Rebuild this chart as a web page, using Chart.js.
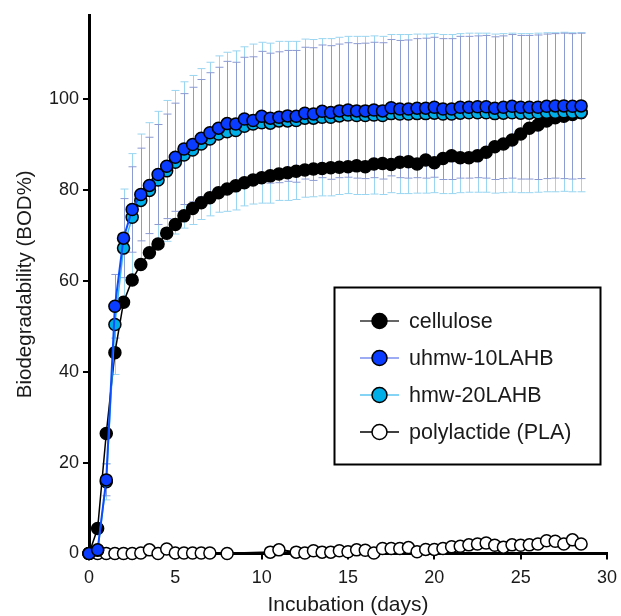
<!DOCTYPE html>
<html>
<head>
<meta charset="utf-8">
<script src="https://cdn.jsdelivr.net/npm/chart.js@4.4.1/dist/chart.umd.min.js"></script>
<style>
body{margin:0;background:#fff;}
canvas{display:block;}
</style>
</head>
<body>
<canvas id="bod" width="621" height="616"></canvas>
<script>
// incubation days, one reading every half day
let days = [0,0.5,1,1.5,2,2.5,3,3.5,4,4.5,5,5.5,6,6.5,7,7.5,8,8.5,9,9.5,
  10,10.5,11,11.5,12,12.5,13,13.5,14,14.5,15,15.5,16,16.5,17,17.5,18,18.5,19,19.5,
  20,20.5,21,21.5,22,22.5,23,23.5,24,24.5,25,25.5,26,26.5,27,27.5,28,28.5];

let cellulose = [0,5.5,26.4,44.2,55.3,60.2,63.6,66.2,68.1,70.5,72.4,74.3,75.9,77.2,78.3,79.4,80.2,80.9,81.6,82.2,
  82.7,83.1,83.5,83.8,84.1,84.4,84.6,84.7,84.9,85.0,85.1,85.3,85.1,85.7,85.8,85.6,86.1,86.2,85.7,86.6,
  86.0,86.9,87.5,87.1,87.1,87.5,88.3,89.5,90.1,91.0,92.3,93.6,94.3,95.2,95.9,96.2,96.6,97.0];

let uhmw = [0,0.8,16.2,54.4,69.4,75.7,79.0,81.0,83.4,85.2,87.2,89.0,90.0,91.4,92.6,93.6,94.6,94.5,95.6,95.3,
  96.2,95.8,96.0,96.3,96.2,96.9,96.7,97.3,97.05,97.4,97.6,97.4,97.4,97.6,97.4,98.1,97.8,97.8,98.0,98.0,
  98.2,97.8,97.8,98.2,98.2,98.3,98.3,98.0,98.2,98.4,98.2,98.2,98.2,98.4,98.5,98.5,98.4,98.5];
let uhmwErr = [0,0.5,3.5,7.0,8.7,9.4,10.2,10.6,11.0,11.5,11.9,12.2,12.6,12.9,13.2,13.4,13.7,13.6,13.6,14.0,
  14.3,14.3,14.4,14.4,14.5,14.5,14.6,14.6,14.7,14.7,14.8,14.8,14.9,14.9,15.0,15.0,15.1,15.2,15.3,15.4,
  15.4,15.5,15.5,15.6,15.6,15.6,15.7,15.7,15.7,15.8,15.8,15.8,15.9,15.9,15.9,16.0,16.0,16.0];

let hmw = [0,0.7,15.8,50.4,67.2,74.0,77.7,79.9,82.2,84.2,86.1,87.7,88.8,90.1,91.2,92.3,92.8,93.1,94.0,94.5,
  94.8,94.7,95.2,95.2,95.3,95.8,95.8,96.0,96.0,96.3,96.5,96.4,96.4,96.5,96.4,96.8,96.7,96.7,96.8,96.8,
  96.9,96.7,96.7,96.9,97.0,97.0,97.0,96.8,96.9,97.0,96.9,96.9,97.0,97.1,97.1,97.2,97.1,97.1];
let hmwErr = [0,0.5,4.0,11.0,13.0,14.0,14.6,14.9,15.1,15.5,15.8,16.1,16.4,16.6,16.9,17.2,17.5,17.5,17.5,17.6,
  17.7,17.6,17.5,17.5,17.4,17.4,17.3,17.3,17.3,17.3,17.3,17.4,17.4,17.4,17.4,17.4,17.5,17.5,17.5,17.5,
  17.5,17.5,17.5,17.5,17.5,17.5,17.5,17.5,17.5,17.5,17.5,17.5,17.5,17.5,17.5,17.5,17.5,17.5];

// PLA has a few missing readings (null)
let pla = [0,0,0,0,0,0,0.1,0.8,0,1.0,0.1,0.1,0.1,0.1,0.1,null,0,null,null,null,
  null,0.3,0.8,null,0.3,0.1,0.6,0.3,0.3,0.6,0.4,0.8,0.7,0.1,1.1,1.1,1.1,1.3,0.4,0.9,
  0.9,1.1,1.5,1.6,1.9,2.1,2.3,1.8,1.4,1.9,1.8,1.9,2.1,2.8,2.7,2.1,3.0,2.1];

let xTicks = [0,5,10,15,20,25,30];
let yTicks = [0,20,40,60,80,100];

let FONT = 'Liberation Sans, Arial, sans-serif';

function pts(vals){
  return days.map((d,i)=>({x:d, y:vals[i]}));
}

// vertical error bars with caps, behind the markers
let errorBars = {
  id: 'errorBars',
  beforeDatasetsDraw(chart){
    let ctx = chart.ctx;
    let xs = chart.scales.x, ys = chart.scales.y;
    chart.data.datasets.forEach(ds=>{
      if(!ds.errors) return;
      ctx.save();
      ctx.strokeStyle = ds.errorColor;
      ctx.lineWidth = 1;
      ds.data.forEach((p,i)=>{
        let e = ds.errors[i];
        if(!e || p.y == null) return;
        let px = Math.round(xs.getPixelForValue(p.x)) + 0.5;
        let top = ys.getPixelForValue(p.y + e);
        let bot = ys.getPixelForValue(p.y - e);
        ctx.beginPath();
        ctx.moveTo(px, top); ctx.lineTo(px, bot);
        ctx.moveTo(px - 4, top); ctx.lineTo(px + 4, top);
        ctx.moveTo(px - 4, bot); ctx.lineTo(px + 4, bot);
        ctx.stroke();
      });
      ctx.restore();
    });
  }
};

// boxed legend with a line+marker sample for each series
let boxLegend = {
  id: 'boxLegend',
  afterDraw(chart){
    let ctx = chart.ctx;
    ctx.save();
    ctx.lineWidth = 2;
    ctx.strokeStyle = '#000';
    ctx.strokeRect(334.5, 287.5, 266, 177);
    let rows = chart.data.datasets.slice().sort((a,b)=>a.legendRank-b.legendRank);
    rows.forEach((ds,i)=>{
      let y = 321 + i*37;
      ctx.strokeStyle = ds.legendLine;
      ctx.lineWidth = 1.5;
      ctx.beginPath(); ctx.moveTo(360, y); ctx.lineTo(399, y); ctx.stroke();
      ctx.beginPath(); ctx.arc(379.5, y, 7.5, 0, Math.PI*2);
      ctx.fillStyle = ds.pointBackgroundColor; ctx.fill();
      ctx.lineWidth = 1.5; ctx.strokeStyle = '#000'; ctx.stroke();
      ctx.fillStyle = '#1a1a1a';
      ctx.font = '21.5px ' + FONT;
      ctx.textBaseline = 'middle';
      ctx.fillText(ds.label, 409, y + 1);
    });
    ctx.restore();
  }
};

function series(label, vals, color, fill, width, order, rank, legendLine){
  return {
    label: label,
    data: pts(vals),
    borderColor: color,
    borderWidth: width,
    pointRadius: 6,
    pointBorderWidth: 1.5,
    pointBorderColor: '#000',
    pointBackgroundColor: fill,
    tension: 0,
    spanGaps: true,
    clip: false,
    order: order,
    legendRank: rank,
    legendLine: legendLine
  };
}

let dsCell = series('cellulose', cellulose, '#000', '#000', 1.5, 2, 0, '#333');
let dsUhmw = series('uhmw-10LAHB', uhmw, '#0a4dff', '#0a3cff', 2, 0, 1, '#7b8ff0');
dsUhmw.errors = uhmwErr; dsUhmw.errorColor = '#8c9bd2';
let dsHmw = series('hmw-20LAHB', hmw, '#3db5ee', '#00aee8', 1.5, 1, 2, '#5ec6f2');
dsHmw.errors = hmwErr; dsHmw.errorColor = '#9ad5f1';
let dsPla = series('polylactide (PLA)', pla, '#000', '#fff', 2, 3, 3, '#000');

new Chart(document.getElementById('bod'), {
  type: 'line',
  data: { datasets: [dsHmw, dsUhmw, dsCell, dsPla] },
  options: {
    responsive: false,
    animation: false,
    layout: { padding: { left: 0, top: 15, right: 14, bottom: 0 } },
    plugins: { legend: { display: false }, tooltip: { enabled: false } },
    scales: {
      x: {
        type: 'linear', min: 0, max: 30,
        afterFit(s){ s.height = 62.5; s.paddingLeft = 0; s.paddingRight = 0; },
        afterBuildTicks(s){ s.ticks = xTicks.map(v=>({value:v})); },
        border: { width: 3, color: '#000' },
        grid: { drawOnChartArea: false, drawTicks: true, tickLength: 6, lineWidth: 2, color: '#000' },
        ticks: { color: '#1a1a1a', font: { family: FONT, size: 18 }, padding: 8, maxRotation: 0 },
        title: { display: true, text: 'Incubation (days)', color: '#1a1a1a',
          font: { family: FONT, size: 21, lineHeight: 1 }, padding: { top: 0, bottom: 0.5 } }
      },
      y: {
        type: 'linear', min: 0, max: 118.5,
        afterFit(s){ s.width = 89; s.paddingTop = 0; s.paddingBottom = 0; },
        afterBuildTicks(s){ s.ticks = yTicks.map(v=>({value:v})); },
        border: { width: 3, color: '#000' },
        grid: { drawOnChartArea: false, drawTicks: true, tickLength: 6, lineWidth: 2, color: '#000' },
        ticks: { color: '#1a1a1a', font: { family: FONT, size: 18 }, padding: 4 },
        title: { display: true, text: 'Biodegradability (BOD%)', color: '#1a1a1a',
          font: { family: FONT, size: 20.5, lineHeight: 1.2 }, padding: { top: 12.7, bottom: 0 } }
      }
    }
  },
  plugins: [errorBars, boxLegend]
});
</script>
</body>
</html>
